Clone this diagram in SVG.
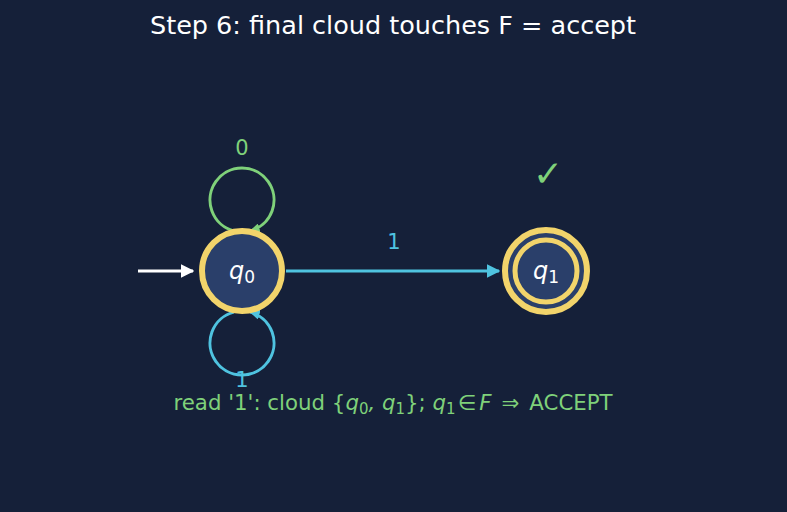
<svg xmlns="http://www.w3.org/2000/svg" width="787" height="512" viewBox="0 0 787 512">
<defs>
<style>
text{font-family:"DejaVu Sans","Liberation Sans",sans-serif}
.ring{fill:#2a3f6a;stroke:#f2d46b;stroke-width:6}
.lbl{font-size:21px;text-anchor:middle}
.math{font-style:italic}
</style>
<marker id="ahW" viewBox="0 0 10 10" refX="9" refY="5" markerWidth="4.5" markerHeight="4.5" orient="auto"><path d="M0,0 L10,5 L0,10 z" fill="#ffffff"/></marker>
<marker id="ahB" viewBox="0 0 10 10" refX="9" refY="5" markerWidth="4.5" markerHeight="4.5" orient="auto"><path d="M0,0 L10,5 L0,10 z" fill="#4fc3e0"/></marker>
<marker id="ahG" viewBox="0 0 10 10" refX="9" refY="5" markerWidth="3.5" markerHeight="3.5" orient="auto"><path d="M0,0 L10,5 L0,10 z" fill="#7fd17a"/></marker>
<marker id="ahB2" viewBox="0 0 10 10" refX="9" refY="5" markerWidth="3.5" markerHeight="3.5" orient="auto"><path d="M0,0 L10,5 L0,10 z" fill="#4fc3e0"/></marker>
</defs>
<rect width="787" height="512" fill="#152039"/>
<text x="393" y="34" font-size="25.5" fill="#ffffff" text-anchor="middle">Step 6: final cloud touches F = accept</text>
<g id="connectors" fill="none" stroke-width="3">
<line x1="138" y1="271" x2="193" y2="271" stroke="#ffffff" marker-end="url(#ahW)"/>
<line x1="286" y1="271" x2="499" y2="271" stroke="#4fc3e0" marker-end="url(#ahB)"/>
<path d="M233.7,230.9 A32,32 0 1 1 250.3,230.9" stroke="#7fd17a" marker-end="url(#ahG)"/>
<path d="M233.7,312.1 A32,32 0 1 0 250.3,312.1" stroke="#4fc3e0" marker-end="url(#ahB2)"/>
<text x="242" y="155" class="lbl" fill="#7fd17a" stroke="none">0</text>
<text x="242" y="387" class="lbl" fill="#4fc3e0" stroke="none">1</text>
<text x="394" y="249" class="lbl" fill="#4fc3e0" stroke="none">1</text>
</g>
<g id="q0">
<circle cx="242" cy="271" r="40" class="ring"/>
<text x="242" y="279" font-size="24" fill="#ffffff" text-anchor="middle"><tspan class="math">q</tspan><tspan font-size="17" dy="4">0</tspan></text>
</g>
<g id="q1">
<circle cx="546" cy="271" r="41" fill="#2a3f6a" stroke="#f2d46b" stroke-width="6"/>
<circle cx="546" cy="271" r="31" fill="none" stroke="#f2d46b" stroke-width="5"/>
<text x="546" y="279" font-size="24" fill="#ffffff" text-anchor="middle"><tspan class="math">q</tspan><tspan font-size="17" dy="4">1</tspan></text>
</g>
<text x="548" y="186" font-size="36" fill="#7fd17a" text-anchor="middle">✓</text>
<text x="393" y="410" font-size="21.3" fill="#7fd17a" text-anchor="middle">read '1': cloud {<tspan class="math">q</tspan><tspan font-size="15" dy="4">0</tspan><tspan dy="-4" class="math">, q</tspan><tspan font-size="15" dy="4">1</tspan><tspan dy="-4">}; </tspan><tspan class="math">q</tspan><tspan font-size="15" dy="4">1</tspan><tspan dy="-4" dx="2">∈</tspan><tspan class="math" dx="3">F</tspan><tspan dx="10">⇒</tspan><tspan dx="10">ACCEPT</tspan></text>
</svg>
